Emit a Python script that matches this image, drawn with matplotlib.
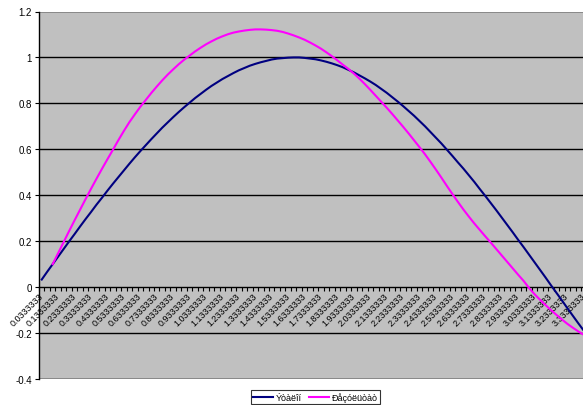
import numpy as np
import matplotlib
matplotlib.use("Agg")
import matplotlib.pyplot as plt

# categories: k/30, k = 1..100
x_labels = ["%.7f" % (k / 30) for k in range(1, 101)]

# "Ýòàëîí" (reference curve)
etalon = [
    0.033, 0.067, 0.100, 0.133, 0.166, 0.199, 0.231, 0.264, 0.296, 0.327,
    0.359, 0.389, 0.420, 0.450, 0.479, 0.508, 0.537, 0.565, 0.592, 0.618,
    0.644, 0.669, 0.694, 0.717, 0.740, 0.762, 0.783, 0.803, 0.823, 0.841,
    0.859, 0.876, 0.891, 0.906, 0.919, 0.932, 0.944, 0.954, 0.964, 0.972,
    0.979, 0.985, 0.991, 0.995, 0.997, 0.999, 1.000, 1.000, 0.998, 0.995,
    0.992, 0.987, 0.981, 0.974, 0.966, 0.957, 0.946, 0.935, 0.922, 0.909,
    0.895, 0.880, 0.863, 0.846, 0.827, 0.808, 0.788, 0.767, 0.746, 0.723,
    0.700, 0.675, 0.650, 0.625, 0.598, 0.571, 0.543, 0.516, 0.487, 0.458,
    0.427, 0.397, 0.366, 0.335, 0.303, 0.271, 0.239, 0.206, 0.174, 0.141,
    0.108, 0.075, 0.042, 0.008, -0.025, -0.058, -0.092, -0.125, -0.158, -0.190,
]

# "Ðåçóëüòàò" (result curve), first two categories empty
result = [
    None, None, 0.100, 0.148, 0.196, 0.244, 0.291, 0.337, 0.383, 0.428,
    0.472, 0.515, 0.557, 0.598, 0.640, 0.680, 0.718, 0.752, 0.785, 0.815,
    0.845, 0.873, 0.900, 0.925, 0.948, 0.970, 0.990, 1.008, 1.026, 1.042,
    1.057, 1.070, 1.082, 1.092, 1.101, 1.108, 1.113, 1.117, 1.120, 1.122,
    1.122, 1.121, 1.119, 1.116, 1.111, 1.104, 1.096, 1.087, 1.077, 1.065,
    1.052, 1.038, 1.022, 1.005, 0.987, 0.968, 0.950, 0.930, 0.908, 0.884,
    0.859, 0.833, 0.807, 0.781, 0.754, 0.726, 0.698, 0.669, 0.639, 0.609,
    0.578, 0.545, 0.511, 0.476, 0.440, 0.405, 0.371, 0.338, 0.307, 0.277,
    0.249, 0.221, 0.194, 0.166, 0.138, 0.110, 0.082, 0.054, 0.027, -0.004,
    -0.031, -0.055, -0.078, -0.100, -0.121, -0.141, -0.160, -0.177, -0.193, -0.208,
]

y_ticks = [-0.4, -0.2, 0, 0.2, 0.4, 0.6, 0.8, 1, 1.2]
y_tick_labels = ["-0.4", "-0.2", "0", "0.2", "0.4", "0.6", "0.8", "1", "1.2"]

plt.rcParams["font.family"] = ["Liberation Sans", "DejaVu Sans"]

fig = plt.figure(figsize=(5.83, 4.06), dpi=100)
ax = fig.add_axes([39 / 583, 1 - 380 / 406, 547.6 / 583, 367.5 / 406])
ax.set_facecolor("#C0C0C0")

idx = np.arange(len(x_labels))
res = np.array([np.nan if v is None else v for v in result], dtype=float)

# grid lines
for yv in y_ticks:
    if yv in (-0.4, 1.2):
        ax.axhline(yv, color="#808080", lw=1.2, zorder=1)
    elif yv != 0:
        ax.axhline(yv, color="black", lw=1.0, zorder=1)

ax.plot(idx, etalon, color="#000080", lw=1.5, label="Ýòàëîí", zorder=3)
ax.plot(idx, res, color="#FF00FF", lw=1.5, label="Ðåçóëüòàò", zorder=4)

ax.set_xlim(-0.5, len(x_labels) - 0.5)
ax.set_ylim(-0.4, 1.2)

ax.spines["top"].set_visible(False)
ax.spines["right"].set_visible(False)
ax.spines["bottom"].set_position(("data", 0))
ax.spines["bottom"].set_color("black")
ax.spines["bottom"].set_linewidth(1.0)
ax.spines["bottom"].set_zorder(2)
ax.spines["left"].set_color("black")
ax.spines["left"].set_linewidth(1.0)

ax.set_yticks(y_ticks)
ax.set_yticklabels(y_tick_labels, fontsize=7)
ax.tick_params(axis="y", direction="out", length=3, width=0.8, pad=2)

# category ticks at boundaries, labels every third category
ax.set_xticks(np.arange(len(x_labels) + 1) - 0.5, minor=True)
ax.set_xticks(idx[::3])
ax.set_xticklabels(x_labels[::3], fontsize=6.5, rotation=45,
                   ha="right", va="center", rotation_mode="anchor")
ax.tick_params(axis="x", which="major", length=0, pad=5)
ax.tick_params(axis="x", which="minor", direction="out", length=3, width=0.8)

leg = fig.legend(loc="lower center", bbox_to_anchor=(315.5 / 583, 0.0),
                 ncol=2, fontsize=6.5, frameon=True, fancybox=False,
                 edgecolor="black", handlelength=2.2, handletextpad=0.3,
                 columnspacing=0.8, borderpad=0.25, borderaxespad=0.1)
leg.get_frame().set_linewidth(0.8)

fig.savefig("out.png", dpi=100)
